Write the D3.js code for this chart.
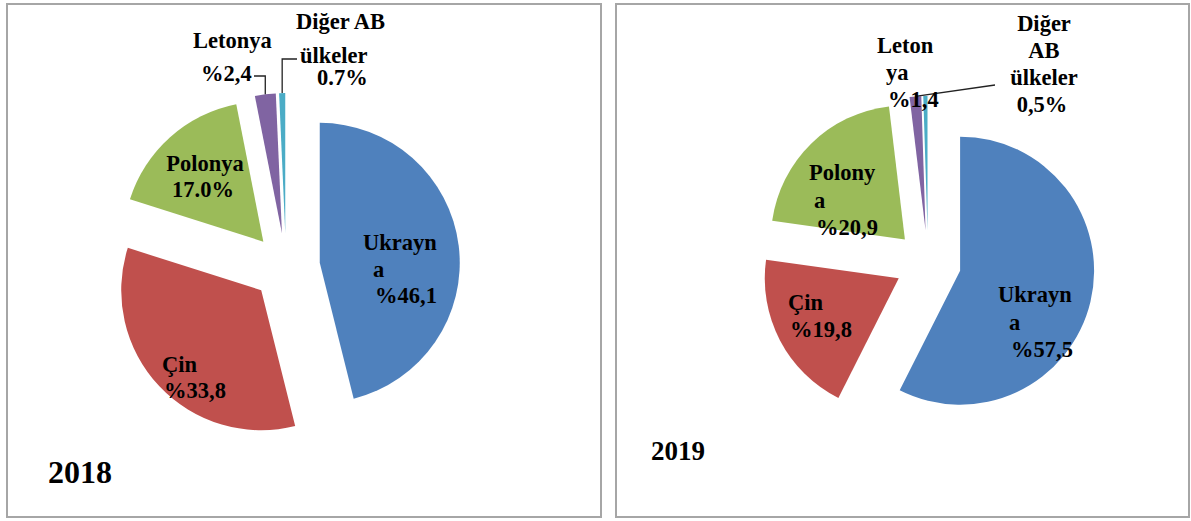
<!DOCTYPE html>
<html>
<head>
<meta charset="utf-8">
<script src="https://cdn.jsdelivr.net/npm/d3@7"></script>
<style>
  body { margin: 0; background: #fff; }
  text { font-family: "Liberation Serif", "Times New Roman", serif; font-weight: bold; fill: #000; }
</style>
</head>
<body>
<div id="chart"></div>
<script>
// data
var categories = ["Ukrayna", "Çin", "Polonya", "Letonya", "Diğer AB ülkeler"];
var years = ["2018", "2019"];
var values2018 = [46.1, 33.8, 17.0, 2.4, 0.7];
var values2019 = [57.5, 19.8, 20.9, 1.4, 0.5];
var labels2018 = [["Ukrayn", "a", "%46,1"], ["Çin", "%33,8"], ["Polonya", "17.0%"], ["Letonya", "%2,4"], ["Diğer AB", "ülkeler", "0.7%"]];
var labels2019 = [["Ukrayn", "a", "%57,5"], ["Çin", "%19,8"], ["Polony", "a", "%20,9"], ["Leton", "ya", "%1,4"], ["Diğer", "AB", "ülkeler", "0,5%"]];
var colors = ["#4F81BD", "#C0504D", "#9BBB59", "#8064A2", "#4BACC6"];

var W = 1191, H = 521;

// layout of each panel (label positions relative to the pie centre)
var panels = [
	{
		year: years[0], values: values2018, labels: labels2018,
		box: [7, 4, 594, 513], cx: 286, cy: 267, r: 140, explode: 34,
		yearPos: [48, 483], yearSize: 32,
		labelPos: [
			{anchor: "start", x: [77, 87, 89], y: [-17, 10, 36]},
			{anchor: "start", x: [-124, -122], y: [105, 131]},
			{anchor: "middle", x: [-81, -83], y: [-96, -70]},
			{anchor: "start", x: [-93, -85], y: [-219, -186]},
			{anchor: "start", x: [10, 14, 31], y: [-238, -204, -182]}
		],
		leaders: [
			{slice: 3, elbow: true, y: -191, x: -32},
			{slice: 4, elbow: true, y: -208, x: 11}
		]
	},
	{
		year: years[1], values: values2019, labels: labels2019,
		box: [616, 4, 573, 513], cx: 928, cy: 263, r: 134, explode: 33,
		yearPos: [651, 460], yearSize: 27,
		labelPos: [
			{anchor: "start", x: [70, 81, 83], y: [39, 67, 94]},
			{anchor: "start", x: [-140, -138], y: [47, 74]},
			{anchor: "start", x: [-119, -114, -112], y: [-83, -55, -28]},
			{anchor: "start", x: [-51, -42, -40], y: [-210, -183, -156]},
			{anchor: "middle", x: [116, 116, 116, 114], y: [-232, -205, -178, -151]}
		],
		leaders: [
			{slice: 3, elbow: false, y: -178, x: 67}
		]
	}
];

var svg = d3.select("#chart").append("svg")
	.attr("width", W)
	.attr("height", H);

var pie = d3.pie().sort(null).value(function(d){ return d; });

panels.forEach(function(p){

	svg.append("rect")
		.attr("x", p.box[0])
		.attr("y", p.box[1])
		.attr("width", p.box[2])
		.attr("height", p.box[3])
		.attr("fill", "none")
		.attr("stroke", "#a6a6a6")
		.attr("stroke-width", 2);

	var arc = d3.arc().innerRadius(0).outerRadius(p.r);
	var arcs = pie(p.values);

	var g = svg.append("g").attr("transform", "translate(" + p.cx + "," + p.cy + ")");

	// offset of each exploded slice
	function shift(d){
		var a = (d.startAngle + d.endAngle) / 2;
		return [p.explode * Math.sin(a), -p.explode * Math.cos(a)];
	}

	g.selectAll("path.slice")
		.data(arcs)
		.enter()
		.append("path")
		.attr("class", "slice")
		.attr("d", arc)
		.attr("fill", function(d, i){ return colors[i]; })
		.attr("transform", function(d){
			var s = shift(d);
			return "translate(" + s[0] + "," + s[1] + ")";
		});

	// leader lines
	p.leaders.forEach(function(l){
		var d = arcs[l.slice];
		var a = (d.startAngle + d.endAngle) / 2;
		var s = shift(d);
		var ox = s[0] + p.r * Math.sin(a), oy = s[1] - p.r * Math.cos(a);
		var pts = l.elbow ? [[ox, oy], [ox, l.y], [l.x, l.y]] : [[ox, oy], [l.x, l.y]];
		g.append("path")
			.attr("d", d3.line()(pts))
			.attr("fill", "none")
			.attr("stroke", "#222")
			.attr("stroke-width", 1.3);
	});

	// labels
	p.labels.forEach(function(lines, i){
		var lp = p.labelPos[i];
		var t = g.append("text")
			.attr("text-anchor", lp.anchor)
			.style("font-size", "22.5px");
		lines.forEach(function(line, j){
			t.append("tspan")
				.attr("x", lp.x[j])
				.attr("y", lp.y[j])
				.text(line);
		});
	});

	svg.append("text")
		.attr("x", p.yearPos[0])
		.attr("y", p.yearPos[1])
		.style("font-size", p.yearSize + "px")
		.text(p.year);
});
</script>
</body>
</html>
